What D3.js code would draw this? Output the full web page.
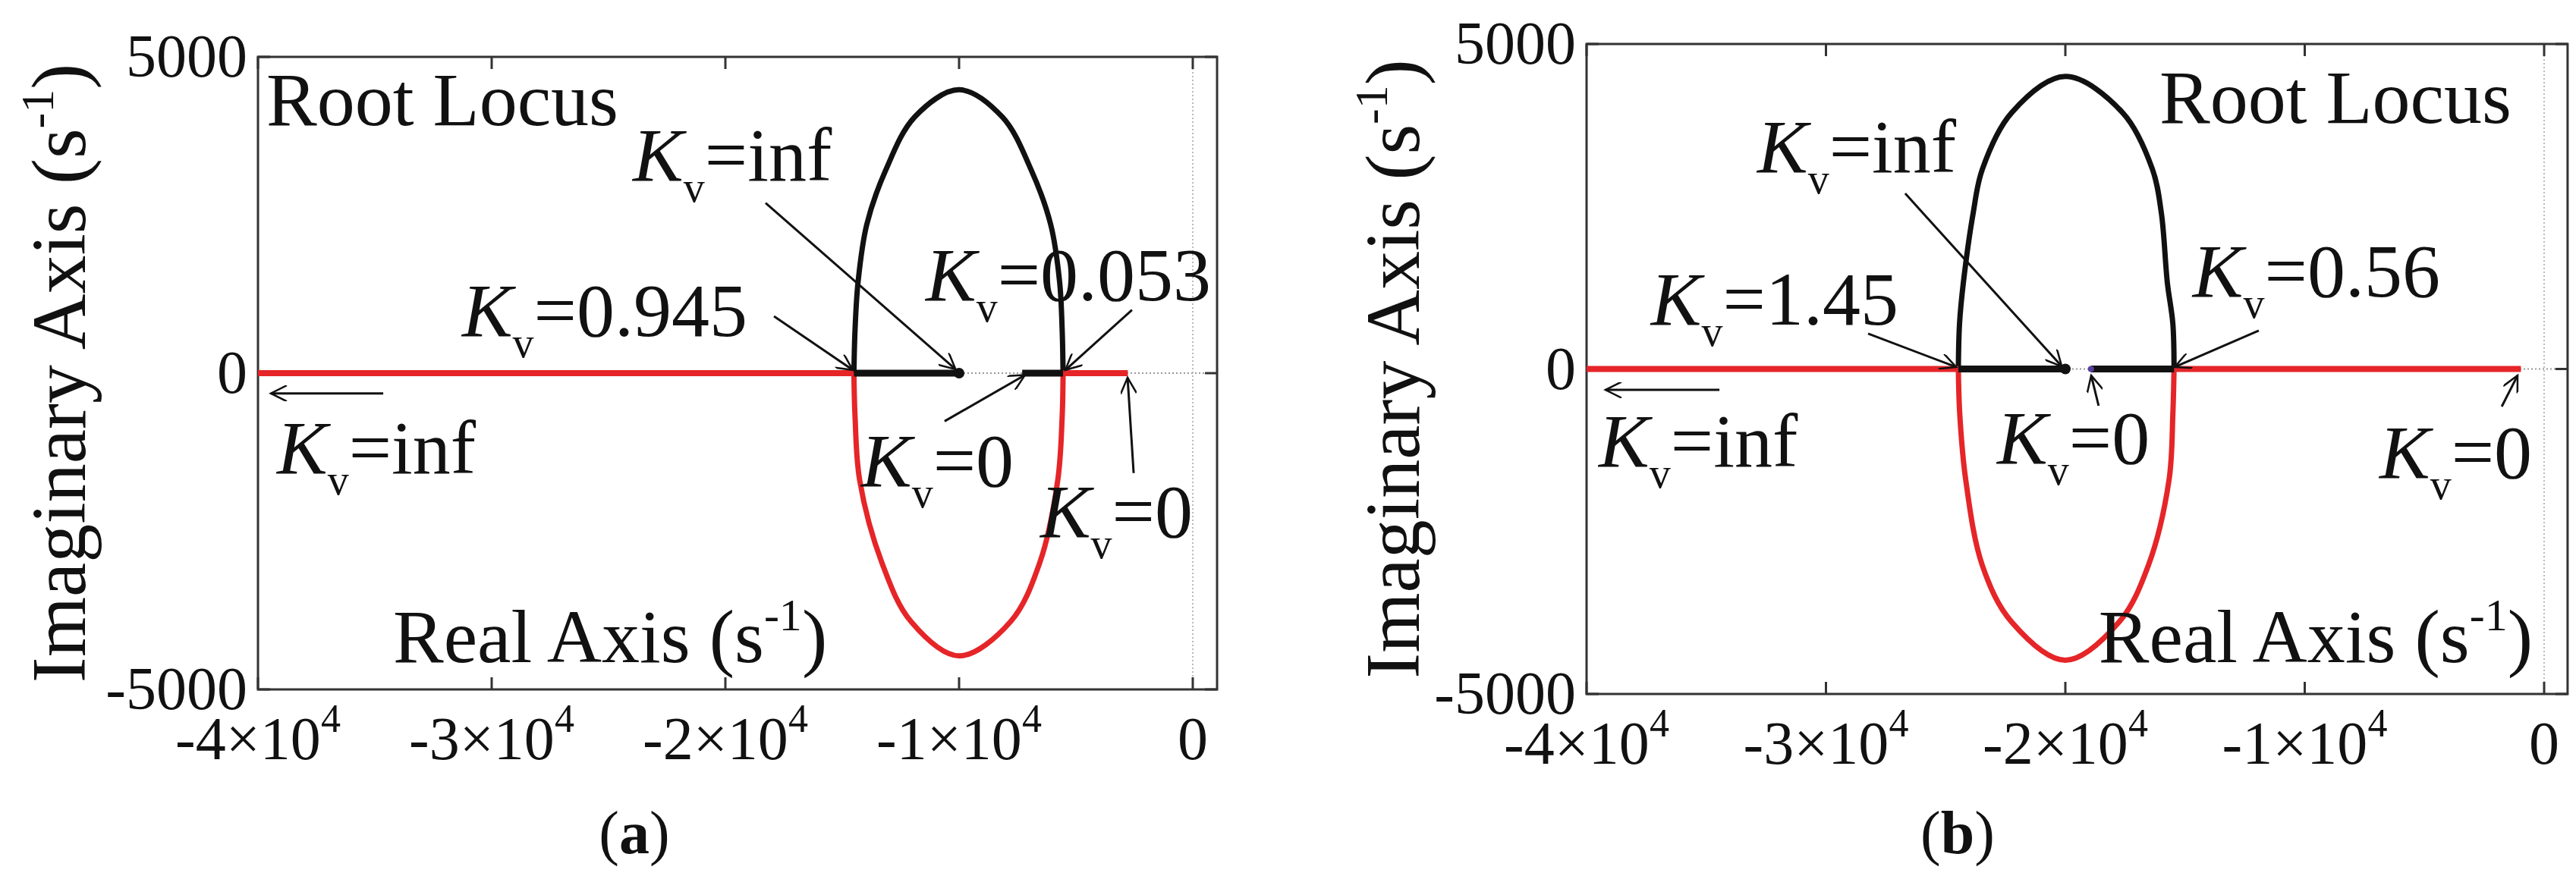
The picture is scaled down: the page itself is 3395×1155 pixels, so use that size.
<!DOCTYPE html>
<head>
<meta charset="utf-8">
<script src="https://d3js.org/d3.v7.min.js"></script>
<style>
  body { margin: 0; background: #fff; }
  svg, text, tspan { font-family: "Liberation Serif", "Times New Roman", Times, "DejaVu Serif", serif; }
  text { fill: #111; }
</style>
</head>
<body>
<div id="svg-container"></div>
<script>
// ---- data (real part, imaginary part in s^-1) ----
const xTicks = [-40000, -30000, -20000, -10000, 0];
const xTickLabels = [["-4×10", "4"], ["-3×10", "4"], ["-2×10", "4"], ["-1×10", "4"], ["0", ""]];
const yTicks = [-5000, 0, 5000];

// panel (a)
const aUpper = [[-14500,0],[-14450,700],[-14320,1450],[-13950,2350],[-13150,3200],[-11900,4050],[-10000,4480],[-8150,4050],[-6900,3200],[-6080,2350],[-5700,1450],[-5590,700],[-5550,0]];
const aLower = [[-14500,0],[-14450,-700],[-14250,-1700],[-13300,-3000],[-12050,-3930],[-10000,-4470],[-7800,-3930],[-6550,-3000],[-5780,-1700],[-5590,-700],[-5550,0]];
const aRedReal = [[-40000,-14500],[-5550,-2780]];
const aBlackReal = [[-14500,-10000],[-7300,-5550]];
const aPole = [-10000];
const aLabels = [
  {x:-23960, y:3045, t:"=inf"}, {x:-31270, y:588, t:"=0.945"}, {x:-11430, y:1150, t:"=0.053"},
  {x:-39190, y:-1580, t:"=inf"}, {x:-14190, y:-1790, t:"=0"}, {x:-6530, y:-2590, t:"=0"}];
const aArrows = [
  [-18280,2690,-10150,60], [-17920,900,-14550,50], [-2600,1000,-5450,50],
  [-10620,-760,-7180,-30], [-2530,-1580,-2790,-70], [-34640,-320,-39450,-320]];
const aTitle = {x:-39640, y:3920}, aReal = {x:-34220, y:-4570};

// panel (b)
const bUpper = [[-24470,0],[-24420,700],[-24260,1330],[-23850,2400],[-23470,3070],[-22250,3940],[-20000,4500],[-17600,3940],[-16360,3070],[-15990,2400],[-15740,1330],[-15510,700],[-15460,0]];
const bLower = [[-24470,0],[-24410,-700],[-24160,-1710],[-23470,-3020],[-22250,-3890],[-20000,-4480],[-17750,-3890],[-16530,-3020],[-15670,-1710],[-15510,-700],[-15460,0]];
const bRedReal = [[-40000,-24470],[-15460,-970]];
const bBlackReal = [[-24470,-20000],[-18930,-15460]];
const bPole = [-20000];
const bZero = [-18930];
const bLabels = [
  {x:-32870, y:3030, t:"=inf"}, {x:-37310, y:683, t:"=1.45"}, {x:-14680, y:1114, t:"=0.56"},
  {x:-39490, y:-1500, t:"=inf"}, {x:-22850, y:-1450, t:"=0"}, {x:-6880, y:-1670, t:"=0"}];
const bArrows = [
  [-26690,2700,-20150,40], [-28240,543,-24560,30], [-11920,590,-15430,30],
  [-18610,-566,-18920,-100], [-1770,-578,-1110,-100], [-34450,-321,-39210,-321]];
const bTitle = {x:-16070, y:3790}, bReal = {x:-18610, y:-4510};

const W = 3395, H = 1155;
const RED = "#e52528";
const svg = d3.select("#svg-container").append("svg")
  .attr("width", W).attr("height", H)
  .attr("font-family", "'Liberation Serif', 'Times New Roman', serif");

svg.append("defs").append("marker")
  .attr("id", "ah").attr("viewBox", "0 0 10 10").attr("refX", 10).attr("refY", 5)
  .attr("markerWidth", 12).attr("markerHeight", 7).attr("markerUnits", "strokeWidth")
  .attr("orient", "auto")
  .append("path").attr("d", "M0,0 L10,5 L0,10").attr("fill", "none").attr("stroke", "#111").attr("stroke-width", 1.2);

function drawPanel(p) {
  const x = d3.scaleLinear().domain([-40000, 0]).range([p.x0, p.x1]);
  const y = d3.scaleLinear().domain([-5000, 5000]).range([p.y1, p.y0]);
  const right = x(p.xmax);
  const g = svg.append("g");

  // dotted zero grid lines
  g.append("line").attr("x1", p.x0).attr("x2", right).attr("y1", y(0)).attr("y2", y(0))
    .attr("stroke", "#999").attr("stroke-width", 2).attr("stroke-dasharray", "2,3");
  g.append("line").attr("x1", x(0)).attr("x2", x(0)).attr("y1", y(5000)).attr("y2", y(-5000))
    .attr("stroke", "#bbb").attr("stroke-width", 2).attr("stroke-dasharray", "2,3");

  // frame and inward ticks
  g.append("rect").attr("x", p.x0).attr("y", y(5000)).attr("width", right - p.x0).attr("height", y(-5000) - y(5000))
    .attr("fill", "none").attr("stroke", "#333").attr("stroke-width", 3);
  xTicks.forEach(t => {
    g.append("line").attr("x1", x(t)).attr("x2", x(t)).attr("y1", y(-5000)).attr("y2", y(-5000) - 16).attr("stroke", "#333").attr("stroke-width", 3);
    g.append("line").attr("x1", x(t)).attr("x2", x(t)).attr("y1", y(5000)).attr("y2", y(5000) + 16).attr("stroke", "#333").attr("stroke-width", 3);
  });
  yTicks.forEach(t => {
    g.append("line").attr("x1", p.x0).attr("x2", p.x0 + 16).attr("y1", y(t)).attr("y2", y(t)).attr("stroke", "#333").attr("stroke-width", 3);
    g.append("line").attr("x1", right).attr("x2", right - 16).attr("y1", y(t)).attr("y2", y(t)).attr("stroke", "#333").attr("stroke-width", 3);
  });

  // tick labels
  xTicks.forEach((t, i) => {
    const tx = g.append("text").attr("x", x(t)).attr("y", y(-5000) + 92)
      .attr("text-anchor", "middle").style("font-size", "80px");
    tx.append("tspan").text(xTickLabels[i][0]);
    if (xTickLabels[i][1]) tx.append("tspan").attr("dy", -36).style("font-size", "52px").text(xTickLabels[i][1]);
  });
  yTicks.forEach(t => {
    g.append("text").attr("x", p.x0 - 14).attr("y", y(t)).attr("dy", "0.33em")
      .attr("text-anchor", "end").style("font-size", "80px").text(t);
  });

  // y axis label
  const yl = g.append("text").attr("transform", `translate(${p.yLabelX},${(p.y0 + p.y1) / 2}) rotate(-90)`)
    .attr("text-anchor", "middle").style("font-size", "102px");
  yl.append("tspan").text("Imaginary Axis (s");
  yl.append("tspan").attr("dy", -42).style("font-size", "62px").text("-1");
  yl.append("tspan").attr("dy", 42).text(")");

  // locus curves
  const line = d3.line().x(d => x(d[0])).y(d => y(d[1])).curve(d3.curveCatmullRom);
  g.append("path").attr("d", line(p.lower)).attr("fill", "none").attr("stroke", RED).attr("stroke-width", 7);
  g.append("path").attr("d", line(p.upper)).attr("fill", "none").attr("stroke", "#111").attr("stroke-width", 7);
  p.red.forEach(s => g.append("line").attr("x1", x(s[0])).attr("x2", x(s[1])).attr("y1", y(0)).attr("y2", y(0))
    .attr("stroke", RED).attr("stroke-width", 8));
  p.black.forEach(s => g.append("line").attr("x1", x(s[0])).attr("x2", x(s[1])).attr("y1", y(0)).attr("y2", y(0))
    .attr("stroke", "#111").attr("stroke-width", 9));
  p.poles.forEach(v => g.append("circle").attr("cx", x(v)).attr("cy", y(0)).attr("r", 7).attr("fill", "#111"));
  (p.zeros || []).forEach(v => g.append("circle").attr("cx", x(v)).attr("cy", y(0)).attr("r", 4).attr("fill", "#5a3fa0"));

  // arrows
  p.arrows.forEach(a => g.append("line").attr("x1", x(a[0])).attr("y1", y(a[1])).attr("x2", x(a[2])).attr("y2", y(a[3]))
    .attr("stroke", "#111").attr("stroke-width", 3).attr("marker-end", "url(#ah)"));

  // K_v labels
  p.labels.forEach(l => {
    const tx = g.append("text").attr("x", x(l.x)).attr("y", y(l.y)).style("font-size", "100px");
    tx.append("tspan").style("font-style", "italic").text("K");
    tx.append("tspan").attr("dy", 28).style("font-size", "56px").text("v");
    tx.append("tspan").attr("dy", -28).text(l.t);
  });

  g.append("text").attr("x", x(p.title.x)).attr("y", y(p.title.y)).style("font-size", "100px").text("Root Locus");
  const rl = g.append("text").attr("x", x(p.real.x)).attr("y", y(p.real.y)).style("font-size", "100px");
  rl.append("tspan").text("Real Axis (s");
  rl.append("tspan").attr("dy", -42).style("font-size", "60px").text("-1");
  rl.append("tspan").attr("dy", 42).text(")");

  const cap = g.append("text").attr("x", p.capX).attr("y", 1125).attr("text-anchor", "middle").style("font-size", "80px");
  cap.append("tspan").text("(");
  cap.append("tspan").style("font-weight", "bold").text(p.cap);
  cap.append("tspan").text(")");
}

drawPanel({x0: 340, x1: 1572, y0: 75, y1: 909, xmax: 1040, yLabelX: 112,
  upper: aUpper, lower: aLower, red: aRedReal, black: aBlackReal, poles: aPole,
  labels: aLabels, arrows: aArrows, title: aTitle, real: aReal, capX: 836, cap: "a"});
drawPanel({x0: 2091, x1: 3353, y0: 58, y1: 915, xmax: 980, yLabelX: 1870,
  upper: bUpper, lower: bLower, red: bRedReal, black: bBlackReal, poles: bPole, zeros: bZero,
  labels: bLabels, arrows: bArrows, title: bTitle, real: bReal, capX: 2580, cap: "b"});
</script>
</body>
</html>
